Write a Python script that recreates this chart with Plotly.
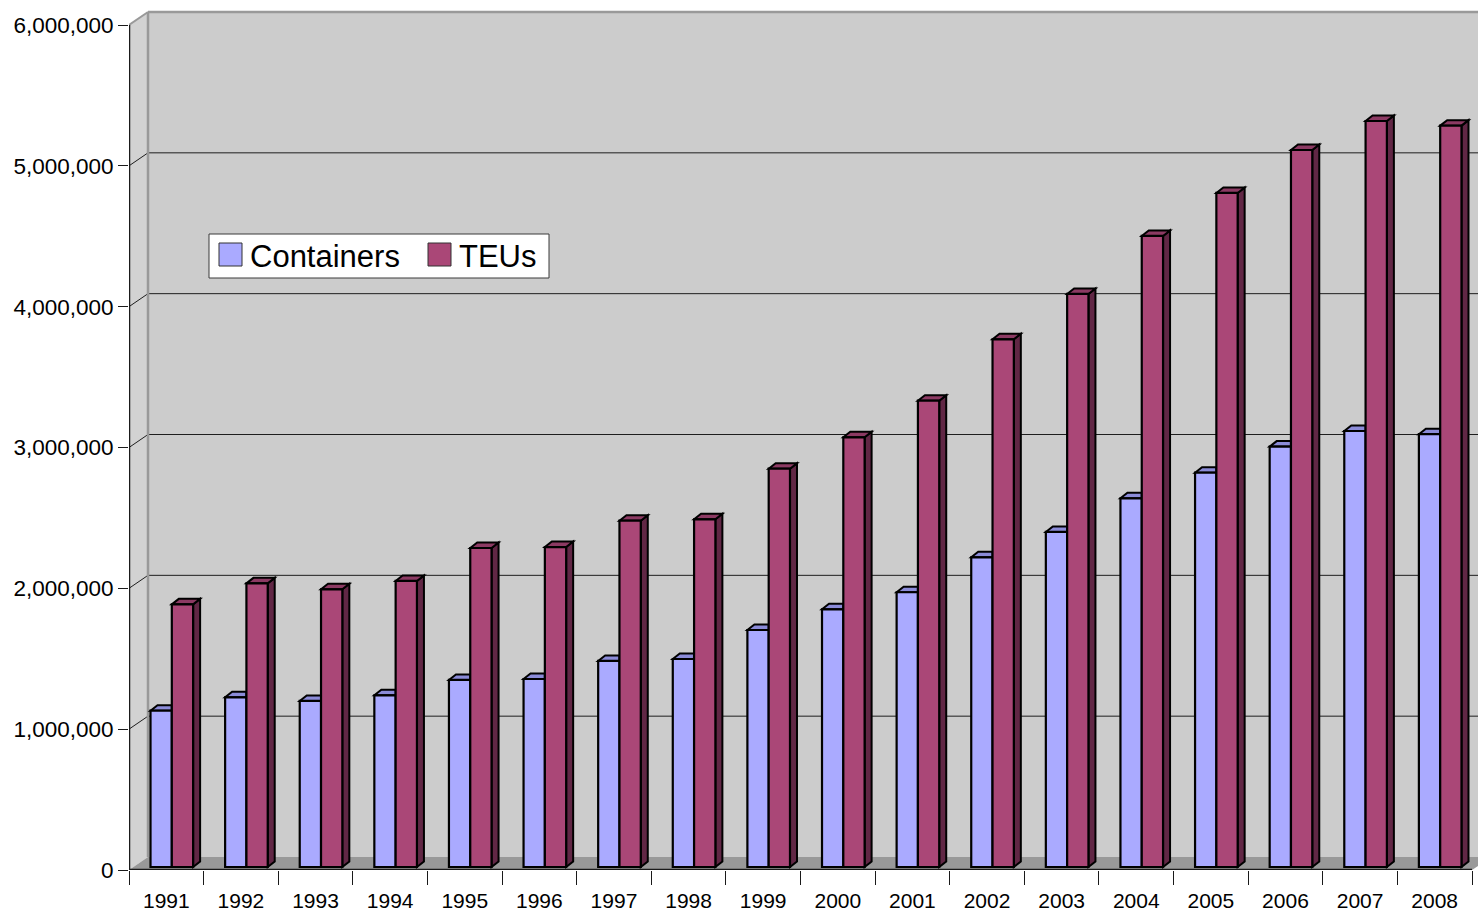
import plotly.graph_objects as go

# ---------------- data ----------------
years = [str(y) for y in range(1991, 2009)]
containers = [1110000, 1205000, 1179000, 1219000, 1328000, 1335000, 1463000, 1477000, 1683000,
              1830000, 1951000, 2199000, 2379000, 2618000, 2800000, 2985000, 3096000, 3073000]
teus = [1865000, 2014000, 1972000, 2031000, 2265000, 2272000, 2459000, 2469000, 2828000,
        3051000, 3311000, 3747000, 4069000, 4481000, 4786000, 5091000, 5297000, 5264000]
y_ticks = [0, 1000000, 2000000, 3000000, 4000000, 5000000, 6000000]
series_names = ["Containers", "TEUs"]

# ---------------- layout constants ----------------
W, H = 1478, 912
L, R, T, B = 129, 0, 0, 42
plot_w = W - L - R
plot_h = H - T - B
n = len(years)
cat_px = 1343 / n                      # pixels per category on the front plane
y_px = 845 / y_ticks[-1]               # pixels per unit value
xmax = plot_w / cat_px
ymax = plot_h / y_px
top_val = y_ticks[-1]


def dx(px):
    return px / cat_px


def dy(px):
    return px / y_px


WALL_DX, WALL_DY = dx(19), dy(13)
BAR_W, BAR_SHIFT, BAR_BASE = dx(21.3), dx(5.5), dy(3)
TOP_DX, TOP_DY = dx(7), dy(5.5)

C_COL, C_TOP = "#aaaaff", "#8b8bd8"
T_COL, T_TOP, T_SIDE = "#aa4777", "#8c3a63", "#612745"
WALL, LWALL, FLOOR, BORDER = "#cccccc", "#d2d2d2", "#999999", "#999999"
FONT = "Liberation Sans, Arial, sans-serif"

centers = [i + 0.5 for i in range(n)]

fig = go.Figure()
fig.add_trace(go.Bar(x=centers, y=containers, base=BAR_BASE, width=BAR_W,
                     offset=BAR_SHIFT - BAR_W, name=series_names[0],
                     marker=dict(color=C_COL, line=dict(color="black", width=2.2)),
                     showlegend=False))
fig.add_trace(go.Bar(x=centers, y=teus, base=BAR_BASE, width=BAR_W,
                     offset=BAR_SHIFT, name=series_names[1],
                     marker=dict(color=T_COL, line=dict(color="black", width=2.2)),
                     showlegend=False))

shapes = []


def path(pts):
    return "M " + " L ".join(f"{x},{y}" for x, y in pts) + " Z"


def poly(pts, fill, line_color=None, lw=0, layer="below"):
    shapes.append(dict(type="path", xref="x", yref="y", path=path(pts), fillcolor=fill,
                       line=dict(color=line_color or fill, width=lw), layer=layer))


def seg(x0, y0, x1, y1, color, w, layer="below"):
    shapes.append(dict(type="line", xref="x", yref="y", x0=x0, y0=y0, x1=x1, y1=y1,
                       line=dict(color=color, width=w), layer=layer))


# back wall
poly([(WALL_DX, WALL_DY), (xmax + 1, WALL_DY), (xmax + 1, top_val + WALL_DY),
      (WALL_DX, top_val + WALL_DY)], WALL)
# left wall
poly([(0, 0), (WALL_DX, WALL_DY), (WALL_DX, top_val + WALL_DY), (0, top_val)], LWALL)
# floor
poly([(0, 0), (n, 0), (n + WALL_DX, WALL_DY), (WALL_DX, WALL_DY)], FLOOR)
# gridlines on the walls
for v in y_ticks[1:-1]:
    seg(0, v, WALL_DX, v + WALL_DY, "#1e1e1e", 1)
    seg(WALL_DX, v + WALL_DY, xmax + 1, v + WALL_DY, "#1e1e1e", 1)
# wall borders
seg(WALL_DX, WALL_DY, WALL_DX, top_val + WALL_DY, BORDER, 2.5)
seg(WALL_DX, top_val + WALL_DY, xmax + 1, top_val + WALL_DY, BORDER, 2.5)
seg(0, top_val, WALL_DX, top_val + WALL_DY, BORDER, 2)
# front edges
seg(0, 0, 0, top_val, "#1a1a1a", 2.5)
seg(0, 0, n, 0, "#1a1a1a", 2.5)

# 3D tops and sides of bars
for i in range(n):
    cl = centers[i] + BAR_SHIFT - BAR_W
    mid = centers[i] + BAR_SHIFT
    tr = mid + BAR_W
    ct = BAR_BASE + containers[i]
    tt = BAR_BASE + teus[i]
    poly([(cl, ct), (cl + TOP_DX, ct + TOP_DY), (mid, ct + TOP_DY), (mid, ct)],
         C_TOP, "black", 2)
    poly([(tr, BAR_BASE), (tr + TOP_DX, BAR_BASE + TOP_DY), (tr + TOP_DX, tt + TOP_DY), (tr, tt)],
         T_SIDE, "black", 2)
    poly([(mid, tt), (mid + TOP_DX, tt + TOP_DY), (tr + TOP_DX, tt + TOP_DY), (tr, tt)],
         T_TOP, "black", 2)


# legend (drawn as paper shapes + text)
def px_x(px):
    return (px - L) / plot_w


def px_y(py):
    return (T + plot_h - py) / plot_h


def rect_px(x0, y0, x1, y1, fill, line_color, lw):
    shapes.append(dict(type="rect", xref="paper", yref="paper", x0=px_x(x0), x1=px_x(x1),
                       y0=px_y(y1), y1=px_y(y0), fillcolor=fill,
                       line=dict(color=line_color, width=lw), layer="above"))


rect_px(209, 234, 549, 278, "white", "#3a3a3a", 1)
rect_px(219, 243, 242, 266, C_COL, "#333333", 1)
rect_px(428, 243, 451, 266, T_COL, "#333333", 1)
annotations = [
    dict(xref="paper", yref="paper", x=px_x(248), y=px_y(256), text=series_names[0],
         showarrow=False, xanchor="left", yanchor="middle",
         font=dict(family=FONT, size=31, color="black")),
    dict(xref="paper", yref="paper", x=px_x(457), y=px_y(256), text=series_names[1],
         showarrow=False, xanchor="left", yanchor="middle",
         font=dict(family=FONT, size=31, color="black")),
]

fig.update_layout(
    width=W, height=H,
    margin=dict(l=L, r=R, t=T, b=B, pad=0),
    paper_bgcolor="white", plot_bgcolor="white",
    barmode="overlay",
    shapes=shapes, annotations=annotations,
    showlegend=False,
    font=dict(family=FONT, color="black"),
    xaxis=dict(range=[0, xmax], tickmode="array", tickvals=centers, ticktext=years,
               ticks="", showgrid=False, zeroline=False, showline=False,
               tickfont=dict(size=21), ticklabelstandoff=16,
               minor=dict(tickmode="array", tickvals=list(range(n + 1)), ticks="outside",
                          ticklen=14, tickcolor="#1a1a1a", tickwidth=1, showgrid=False),
               fixedrange=True),
    yaxis=dict(range=[0, ymax], tickmode="array", tickvals=y_ticks, tickformat=",d",
               ticks="outside", ticklen=10, tickcolor="#1a1a1a", tickwidth=1.2,
               showgrid=False, zeroline=False, showline=False,
               tickfont=dict(size=22.5), fixedrange=True),
)

fig.write_html("out.html", config={"displayModeBar": False},
               post_script="document.body.style.margin='0';")
